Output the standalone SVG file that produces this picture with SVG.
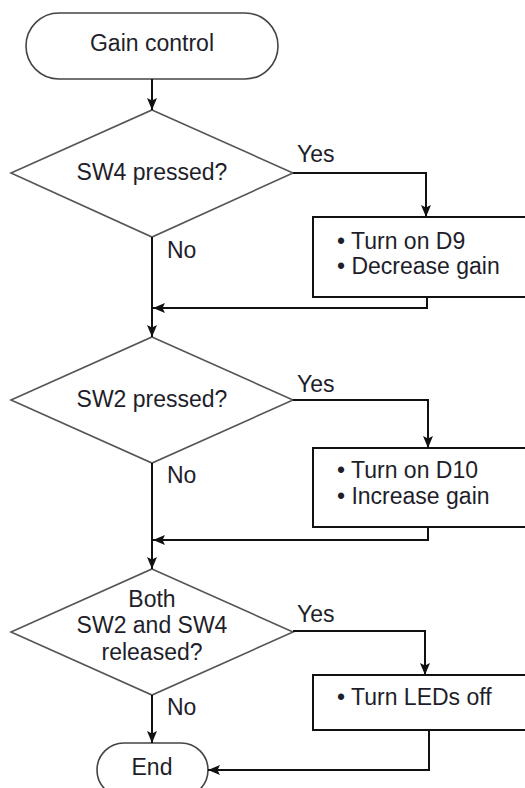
<svg xmlns="http://www.w3.org/2000/svg" width="525" height="788" viewBox="0 0 525 788">
<style>
text{font-family:"Liberation Sans",Arial,sans-serif;font-size:23px;fill:#1e1e2a}
.c{text-anchor:middle}
.term{fill:#fff;stroke:#444;stroke-width:1.6}
.dia{fill:#fff;stroke:#555;stroke-width:1.6}
.box{fill:#fff;stroke:#111;stroke-width:2}
.ln{fill:none;stroke:#111;stroke-width:2}
</style>
<defs>
<marker id="ah" viewBox="0 0 12 10" refX="12" refY="5" markerWidth="12" markerHeight="10" markerUnits="userSpaceOnUse" orient="auto">
<path d="M0,0 L12,5 L0,10 L2.5,5 Z" fill="#111"/>
</marker>
</defs>
<g id="start"><rect class="term" x="26" y="13" width="252" height="66" rx="33"/><text class="c" x="152" y="51">Gain control</text></g>
<g id="d1"><polygon class="dia" points="152,110 293,173 152,237 11,173"/><text class="c" x="152" y="180">SW4 pressed?</text></g>
<g id="b1"><rect class="box" x="313" y="217" width="220" height="80"/><text x="337" y="249">• Turn on D9</text><text x="337" y="274">• Decrease gain</text></g>
<g id="d2"><polygon class="dia" points="152,337 293,400 152,463 11,400"/><text class="c" x="152" y="407">SW2 pressed?</text></g>
<g id="b2"><rect class="box" x="313" y="448" width="220" height="79"/><text x="337" y="478">• Turn on D10</text><text x="337" y="504">• Increase gain</text></g>
<g id="d3"><polygon class="dia" points="152,569 293,632 152,695 11,632"/><text class="c" x="152" y="607">Both</text><text class="c" x="152" y="633">SW2 and SW4</text><text class="c" x="152" y="660">released?</text></g>
<g id="b3"><rect class="box" x="313" y="675" width="220" height="55"/><text x="337" y="705">• Turn LEDs off</text></g>
<g id="end"><rect class="term" x="97" y="743" width="111" height="54" rx="27"/><text class="c" x="152" y="775">End</text></g>
<g id="connectors">
<path class="ln" d="M152,79 V110" marker-end="url(#ah)"/>
<path class="ln" d="M293,173 H426 V217" marker-end="url(#ah)"/>
<path class="ln" d="M427,297 V308 H153" marker-end="url(#ah)"/>
<path class="ln" d="M152,237 V337" marker-end="url(#ah)"/>
<path class="ln" d="M293,400 H428 V448" marker-end="url(#ah)"/>
<path class="ln" d="M428,527 V540 H153" marker-end="url(#ah)"/>
<path class="ln" d="M152,463 V569" marker-end="url(#ah)"/>
<path class="ln" d="M293,631 H425 V675" marker-end="url(#ah)"/>
<path class="ln" d="M429,730 V770 H208" marker-end="url(#ah)"/>
<path class="ln" d="M152,695 V743" marker-end="url(#ah)"/>
</g>
<g id="labels">
<text x="297" y="162">Yes</text>
<text x="167" y="258">No</text>
<text x="297" y="392">Yes</text>
<text x="167" y="483">No</text>
<text x="297" y="622">Yes</text>
<text x="167" y="715">No</text>
</g>
</svg>
